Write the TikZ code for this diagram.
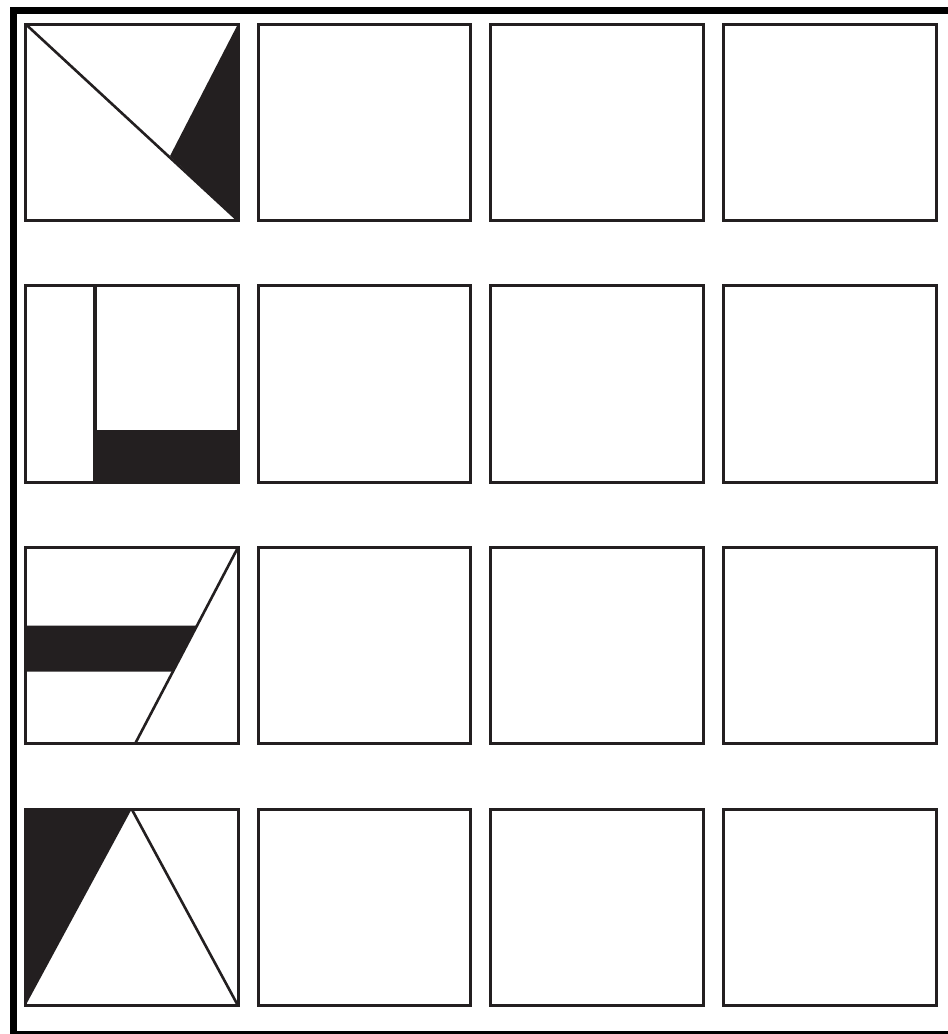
\documentclass[tikz,border=0pt]{standalone}
\definecolor{ink}{HTML}{231F20}
\begin{document}
\begin{tikzpicture}[x=1pt,y=-1pt,
  cellbox/.style={draw=ink,line width=3pt},
  inkline/.style={draw=ink,line width=2.6pt},
  inkfill/.style={fill=ink},
  frameline/.style={draw=black,line width=7pt}]
\useasboundingbox (0,0) rectangle (948,1034);
\clip (0,0) rectangle (948,1034);
\fill[white] (0,0) rectangle (948,1034);
\draw[frameline] (13.5,10) rectangle (953,1034.5);
% figures in first column
% row 1
\fill[inkfill] (238,24) -- (170,156) -- (238,220.5) -- cycle;
\draw[inkline] (25.5,24) -- (238,220.5);
% row 2
\fill[inkfill] (92.5,429.5) rectangle (238,482.2);
\draw[inkline,line width=4pt] (94.5,285.7) -- (94.5,482.2);
% row 3
\fill[inkfill] (25.5,625.7) -- (197,625.7) -- (172.8,671.7) -- (25.5,671.7) -- cycle;
\draw[inkline] (238,547.4) -- (135,743.9);
% row 4
\fill[inkfill] (25.5,809.1) -- (131.7,809.1) -- (25.5,1005.6) -- cycle;
\draw[inkline] (131.7,809.1) -- (238,1005.6);
% grid of squares
\foreach \i in {0,1,2,3}{
  \foreach \j in {0,1,2,3}{
    \draw[cellbox] ({25.5+232.7*\i},{24+261.7*\j}) rectangle ++(212.5,196.5);
  }
}
\end{tikzpicture}
\end{document}
